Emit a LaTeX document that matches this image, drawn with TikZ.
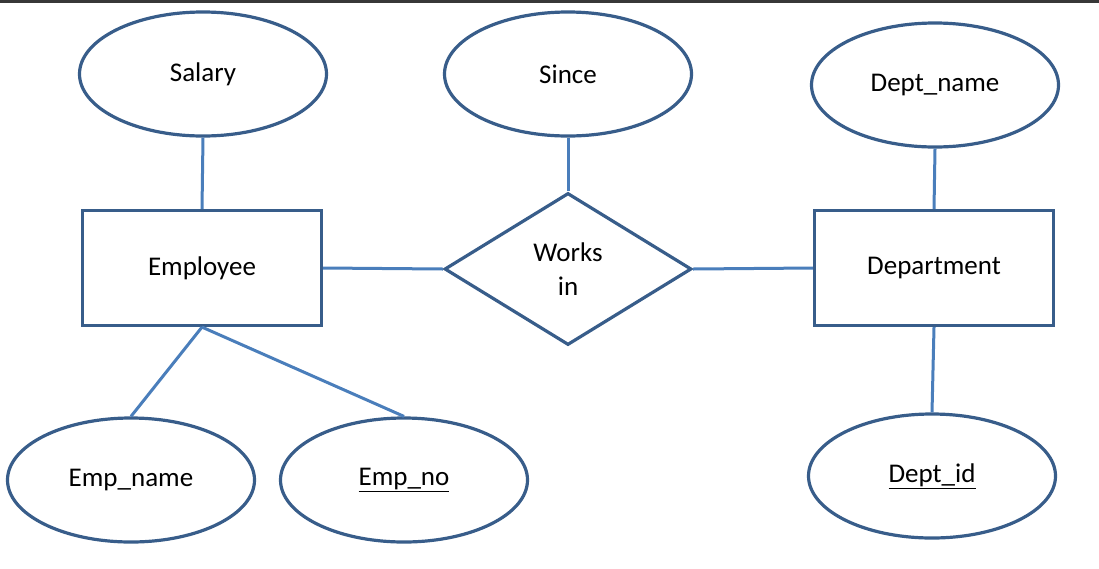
\documentclass[tikz,border=0pt]{standalone}
\usepackage{fontspec}
\setmainfont{Carlito}
\usetikzlibrary{shapes.geometric,positioning}
\definecolor{shapeblue}{HTML}{385D8A}
\definecolor{lineblue}{HTML}{4A7EBB}

\begin{document}
\begin{tikzpicture}[x=1pt, y=-1pt,
    entity/.style={draw=shapeblue, line width=3.2pt, rectangle, minimum width=239pt, minimum height=115pt, inner sep=0pt, font=\fontsize{27}{32}\selectfont},
    attr/.style={draw=shapeblue, line width=3.2pt, ellipse, minimum width=247pt, minimum height=124pt, inner sep=0pt, font=\fontsize{27}{32}\selectfont},
    rel/.style={draw=shapeblue, line width=3.2pt, diamond, minimum width=247pt, minimum height=152pt, inner sep=0pt, align=center, font=\fontsize{27}{34}\selectfont},
    link/.style={draw=lineblue, line width=3pt}
  ]
\useasboundingbox (0,0) rectangle (1099,568);
\fill[black!78] (0,0) rectangle (1099,2.5);

% Entities and relationship
\node[entity] (emp) at (202,268) {Employee};
\node[rel] (works) at (568,269) {Works\\in};
\node[entity] (dept) at (934,268) {Department};

% Attributes
\node[attr] (salary) at (203,74) {Salary};
\node[attr] (since) at (568,74) {Since};
\node[attr] (dname) at (935,85) {Dept\_name};
\node[attr] (ename) at (131,480) {Emp\_name};
\node[attr] (eno) at (404,480) {\underline{Emp\_no}};
\node[attr] (did) at (932,476) {\underline{Dept\_id}};

% Links
\draw[link] (salary.south) -- (emp.north);
\draw[link] (since.south) -- (works.north);
\draw[link] (dname.south) -- (dept.north);
\draw[link] (emp.east) -- (works.west);
\draw[link] (works.east) -- (dept.west);
\draw[link] (emp.south) -- (ename.north);
\draw[link] (emp.south) -- (eno.north);
\draw[link] (dept.south) -- (did.north);

\end{tikzpicture}
\end{document}
